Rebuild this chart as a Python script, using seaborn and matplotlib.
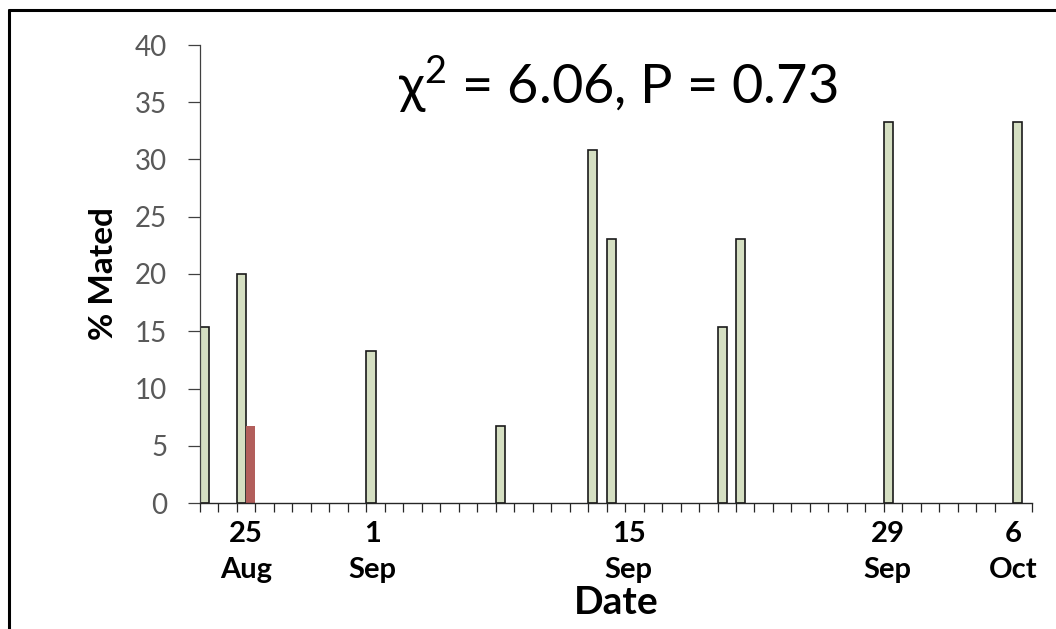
import numpy as np
import pandas as pd
import matplotlib
matplotlib.use("Agg")
import matplotlib.pyplot as plt
from matplotlib.lines import Line2D
from matplotlib.ticker import FixedLocator
import seaborn as sns

# ---- data ----
first_day = "2023-08-23"
n_days = 45
green_dates = ["23 Aug", "25 Aug", "1 Sep", "8 Sep", "13 Sep", "14 Sep",
               "20 Sep", "21 Sep", "29 Sep", "6 Oct"]
green_values = [15.4, 20.0, 13.3, 6.7, 30.8, 23.1, 15.4, 23.1, 33.3, 33.3]
red_dates = ["25 Aug"]
red_values = [6.7]
series_names = ["Series 1", "Series 2"]
tick_dates = ["25 Aug", "1 Sep", "15 Sep", "29 Sep", "6 Oct"]
tick_labels = ["25\nAug", "1\nSep", "15\nSep", "29\nSep", "6\nOct"]
tick_shift = [0.0, -0.15, -0.3, -0.3, -0.5]
y_ticks = [0, 5, 10, 15, 20, 25, 30, 35, 40]
annotation = r"$\mathregular{χ^2}$ = 6.06, P = 0.73"

days = [f"{d.day} {d.strftime('%b')}" for d in pd.date_range(first_day, periods=n_days)]

df = pd.concat([
    pd.DataFrame({"date": green_dates, "pct": green_values, "series": series_names[0]}),
    pd.DataFrame({"date": red_dates, "pct": red_values, "series": series_names[1]}),
])

sns.set_theme(style="white")
plt.rcParams["font.family"] = ["Lato", "DejaVu Sans"]
plt.rcParams["mathtext.fontset"] = "custom"
plt.rcParams["mathtext.rm"] = "Lato"

fig = plt.figure(figsize=(10.56, 6.29), dpi=100)
ax = fig.add_axes([200 / 1056, 1 - 503 / 629, 831.7 / 1056, 458 / 629])

sns.barplot(data=df, x="date", y="pct", hue="series", order=days,
            hue_order=series_names, palette=["#D7E4BD", "#C0504D"],
            width=1.0, dodge=True, errorbar=None, legend=False, ax=ax)

for p in ax.patches:
    fc = p.get_facecolor()
    if abs(fc[0] - 0xD7 / 255) < 0.02:
        p.set_edgecolor("#1a1a1a")
        p.set_linewidth(1.2)
    else:
        p.set_edgecolor("none")

ax.set_xlim(-0.5, n_days - 0.5)
ax.set_ylim(0, 40)
ax.set_yticks(y_ticks)
ax.set_yticklabels([str(t) for t in y_ticks])

ax.set_xticks([days.index(d) + s for d, s in zip(tick_dates, tick_shift)])
ax.set_xticklabels(tick_labels, fontweight="bold", fontsize=21, color="black",
                   linespacing=1.45)
ax.xaxis.set_minor_locator(FixedLocator(np.arange(-0.5, n_days, 1.0)))
ax.tick_params(axis="x", which="major", length=0, pad=13)
ax.tick_params(axis="x", which="minor", length=6.5, width=0.9, color="#262626",
               direction="out", bottom=True)
ax.tick_params(axis="y", which="major", length=8.5, width=0.9, color="#404040",
               direction="out", left=True, pad=15, labelsize=20, labelcolor="#595959")

for s in ["top", "right"]:
    ax.spines[s].set_visible(False)
ax.spines["left"].set_color("#404040")
ax.spines["left"].set_linewidth(0.9)
ax.spines["bottom"].set_color("#262626")
ax.spines["bottom"].set_linewidth(1.0)

ax.set_xlabel("Date", fontsize=28, fontweight="bold", color="black", labelpad=2)
ax.set_ylabel("% Mated", fontsize=24, fontweight="bold", color="black", labelpad=12)

ax.text(22.1, 34.8, annotation, ha="center", va="baseline", fontsize=39, color="black")

# outer frame (top and left edges visible)
fig.add_artist(Line2D([9 / 1056, 1.0], [1 - 9.5 / 629, 1 - 9.5 / 629],
                      transform=fig.transFigure, color="black", linewidth=2.2))
fig.add_artist(Line2D([9 / 1056, 9 / 1056], [1 - 9.5 / 629, 0.0],
                      transform=fig.transFigure, color="black", linewidth=2.2))

fig.savefig("out.png", dpi=100)
